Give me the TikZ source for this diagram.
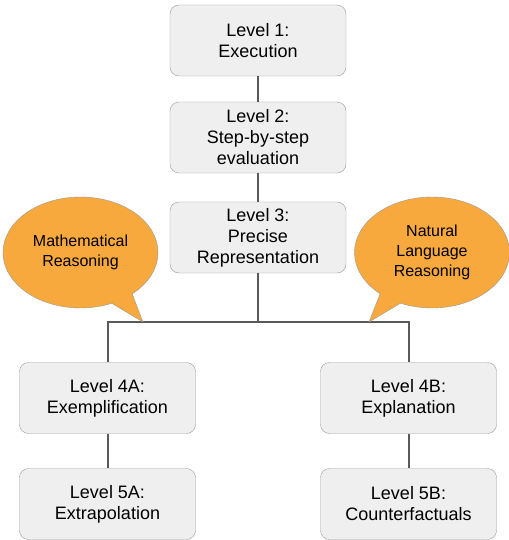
\documentclass[tikz,border=0pt]{standalone}
\usepackage{fontspec}
\setmainfont{Liberation Sans}
\usetikzlibrary{shapes.callouts}
\definecolor{boxfill}{HTML}{EFEFEF}
\definecolor{boxline}{HTML}{9A9A9A}
\definecolor{link}{HTML}{595959}
\definecolor{bubble}{HTML}{F7A93D}
\tikzset{lvl/.style={draw=boxline,fill=boxfill,rounded corners=9pt,minimum width=176pt,minimum height=71pt,align=center,inner sep=0pt,font=\fontsize{18}{21}\selectfont}}
\tikzset{bub/.style={ellipse callout,draw=boxline,fill=bubble,minimum width=155pt,minimum height=111pt,inner sep=0pt,align=center,callout pointer arc=18,font=\fontsize{16}{20}\selectfont}}
\tikzset{ln/.style={draw=link,line width=2pt}}
\begin{document}
\begin{tikzpicture}[x=1pt,y=-1pt]
    \useasboundingbox (0,0) rectangle (508,540);
    \node[lvl] (l1) at (258,40.5) {Level 1:\\Execution};
    \node[lvl] (l2) at (258,137.5) {Level 2:\\Step-by-step\\evaluation};
    \node[lvl] (l3) at (258,237.5) {Level 3:\\Precise\\Representation};
    \node[lvl] (l4a) at (107.5,398) {Level 4A:\\Exemplification};
    \node[lvl] (l5a) at (107.5,504) {Level 5A:\\Extrapolation};
    \node[lvl] (l4b) at (408.5,398) {Level 4B:\\Explanation};
    \node[lvl] (l5b) at (408.5,504) {Level 5B:\\Counterfactuals};
    \coordinate (fork) at (258,322);
    \coordinate (tipm) at (143,322);
    \coordinate (tipn) at (369,322);
    \draw[ln] (l1)--(l2);
    \draw[ln] (l2)--(l3);
    \draw[ln] (l3)--(fork);
    \draw[ln] (fork)-|(l4a);
    \draw[ln] (fork)-|(l4b);
    \draw[ln] (l4a)--(l5a);
    \draw[ln] (l4b)--(l5b);
    \node[bub,callout absolute pointer={(tipm)}] (math) at (80.5,252.5) {Mathematical\\Reasoning};
    \node[bub,callout absolute pointer={(tipn)}] (nat) at (432,252.5) {Natural\\Language\\Reasoning};
\end{tikzpicture}
\end{document}
